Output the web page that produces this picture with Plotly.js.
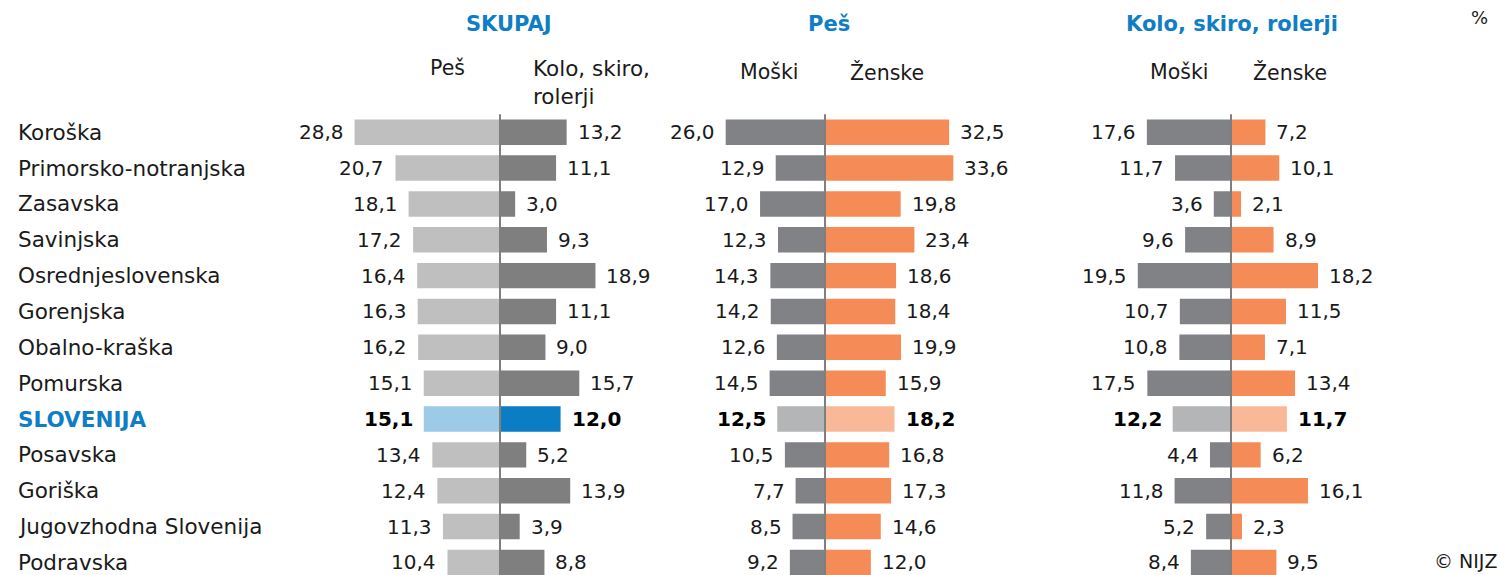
<!DOCTYPE html>
<html>
<head>
<meta charset="utf-8">
<script src="https://cdn.plot.ly/plotly-3.0.1.min.js"></script>
<style>html,body{margin:0;padding:0;background:#fff;}#chart{width:1501px;height:575px;}</style>
</head>
<body>
<div id="chart"></div>
<script>
// ---- DATA ----
const regions = ["Koroška","Primorsko-notranjska","Zasavska","Savinjska","Osrednjeslovenska","Gorenjska","Obalno-kraška","Pomurska","SLOVENIJA","Posavska","Goriška","Jugovzhodna Slovenija","Podravska"];
const skupajPes   = [28.8,20.7,18.1,17.2,16.4,16.3,16.2,15.1,15.1,13.4,12.4,11.3,10.4];
const skupajKolo  = [13.2,11.1,3.0,9.3,18.9,11.1,9.0,15.7,12.0,5.2,13.9,3.9,8.8];
const pesMoski    = [26.0,12.9,17.0,12.3,14.3,14.2,12.6,14.5,12.5,10.5,7.7,8.5,9.2];
const pesZenske   = [32.5,33.6,19.8,23.4,18.6,18.4,19.9,15.9,18.2,16.8,17.3,14.6,12.0];
const koloMoski   = [17.6,11.7,3.6,9.6,19.5,10.7,10.8,17.5,12.2,4.4,11.8,5.2,8.4];
const koloZenske  = [7.2,10.1,2.1,8.9,18.2,11.5,7.1,13.4,11.7,6.2,16.1,2.3,9.5];
const panelTitles = ["SKUPAJ","Peš","Kolo, skiro, rolerji"];
const subLeft  = ["Peš","Moški","Moški"];
const subRight = ["Kolo, skiro,<br>rolerji","Ženske","Ženske"];
const totalName = "SLOVENIJA";

// ---- LAYOUT HELPERS ----
const W = 1501, H = 575;
const FONT = "DejaVu Sans, Verdana, sans-serif";
const TXT = "#1a1a1a";
const BLUE = "#0f7ec5";
const px = v => v / W;
const py = v => 1 - v / H;

// panel geometry: center pixel, pixels per unit, half range, title centre
const panels = [
  {c: 500, s: 5.05, r: 32, t: 509, L: skupajPes, R: skupajKolo,
   colL: "#bfbfbf", colR: "#7f7f7f", totL: "#9dcae6", totR: "#0a7dc5"},
  {c: 825, s: 3.82, r: 36, t: 829, L: pesMoski, R: pesZenske,
   colL: "#818286", colR: "#f58b56", totL: "#b4b5b7", totR: "#f9b999"},
  {c: 1231, s: 4.78, r: 24, t: 1232, L: koloMoski, R: koloZenske,
   colL: "#818286", colR: "#f58b56", totL: "#b4b5b7", totR: "#f9b999"}
];

const topPx = 114.3, rowH = 35.85;
const yDomTop = py(topPx);
const yRange = [-0.5 + (H - topPx) / rowH, -0.5];

const traces = [], annotations = [], shapes = [];
const layout = {
  width: W, height: H,
  margin: {l: 0, r: 0, t: 0, b: 0},
  paper_bgcolor: "#fff", plot_bgcolor: "#fff",
  showlegend: false, barmode: "overlay",
  font: {family: FONT, size: 20, color: TXT},
  yaxis: {type: "category", range: yRange, domain: [0, yDomTop], visible: false,
          categoryorder: "array", categoryarray: regions, fixedrange: true}
};

panels.forEach((p, i) => {
  const xa = i === 0 ? "x" : "x" + (i + 1);
  const key = i === 0 ? "xaxis" : "xaxis" + (i + 1);
  const half = p.r * p.s;
  layout[key] = {range: [-p.r, p.r], domain: [px(p.c - half), px(p.c + half)],
                 visible: false, fixedrange: true, anchor: "y"};
  traces.push({
    type: "bar", orientation: "h", y: regions, x: p.L.map(v => -v),
    xaxis: xa, yaxis: "y", width: 0.71, hoverinfo: "skip",
    marker: {color: regions.map(r => r === totalName ? p.totL : p.colL)}
  });
  traces.push({
    type: "bar", orientation: "h", y: regions, x: p.R,
    xaxis: xa, yaxis: "y", width: 0.71, hoverinfo: "skip",
    marker: {color: regions.map(r => r === totalName ? p.totR : p.colR)}
  });
  const fmt = v => v.toFixed(1).replace(".", ",");
  regions.forEach((reg, k) => {
    const bold = reg === totalName;
    annotations.push({xref: xa, yref: "y", x: -p.L[k], y: reg, xanchor: "right", yanchor: "middle",
      xshift: -9, showarrow: false, text: bold ? "<b>" + fmt(p.L[k]) + "</b>" : fmt(p.L[k]),
      font: {family: FONT, size: 20, color: bold ? "#000" : TXT}});
    annotations.push({xref: xa, yref: "y", x: p.R[k], y: reg, xanchor: "left", yanchor: "middle",
      xshift: 9, showarrow: false, text: bold ? "<b>" + fmt(p.R[k]) + "</b>" : fmt(p.R[k]),
      font: {family: FONT, size: 20, color: bold ? "#000" : TXT}});
  });
  shapes.push({type: "line", xref: xa, yref: "paper", x0: 0, x1: 0, y0: 0, y1: yDomTop,
               line: {color: "#7f7f7f", width: 2}});
  // panel title
  annotations.push({xref: "paper", yref: "paper", x: px(p.t), y: py(24), xanchor: "center", yanchor: "middle",
    showarrow: false, text: "<b>" + panelTitles[i] + "</b>", font: {family: FONT, size: 21, color: BLUE}});
});

// sub headers
const SUB = 20.5;
annotations.push({xref: "paper", yref: "paper", x: px(447), y: py(68), xanchor: "center", yanchor: "middle",
  showarrow: false, text: subLeft[0], font: {family: FONT, size: SUB, color: TXT}});
annotations.push({xref: "paper", yref: "paper", x: px(531), y: py(82), xanchor: "left", yanchor: "middle", align: "left",
  showarrow: false, text: subRight[0], font: {family: FONT, size: 21.5, color: TXT}});
annotations.push({xref: "paper", yref: "paper", x: px(769), y: py(72), xanchor: "center", yanchor: "middle",
  showarrow: false, text: subLeft[1], font: {family: FONT, size: SUB, color: TXT}});
annotations.push({xref: "paper", yref: "paper", x: px(887), y: py(72), xanchor: "center", yanchor: "middle",
  showarrow: false, text: subRight[1], font: {family: FONT, size: SUB, color: TXT}});
annotations.push({xref: "paper", yref: "paper", x: px(1179), y: py(72), xanchor: "center", yanchor: "middle",
  showarrow: false, text: subLeft[2], font: {family: FONT, size: SUB, color: TXT}});
annotations.push({xref: "paper", yref: "paper", x: px(1290), y: py(72), xanchor: "center", yanchor: "middle",
  showarrow: false, text: subRight[2], font: {family: FONT, size: SUB, color: TXT}});

// region labels
regions.forEach(reg => {
  const bold = reg === totalName;
  annotations.push({xref: "paper", yref: "y", x: px(16), y: reg, xanchor: "left", yanchor: "middle",
    showarrow: false, text: bold ? "<b>" + reg + "</b>" : reg,
    font: {family: FONT, size: 21.5, color: bold ? BLUE : TXT}});
});

// unit and credit
annotations.push({xref: "paper", yref: "paper", x: px(1479), y: py(18), xanchor: "center", yanchor: "middle",
  showarrow: false, text: "%", font: {family: FONT, size: 18, color: TXT}});
annotations.push({xref: "paper", yref: "paper", x: px(1499), y: py(561), xanchor: "right", yanchor: "middle",
  showarrow: false, text: "© NIJZ", font: {family: FONT, size: 19, color: TXT}});

layout.annotations = annotations;
layout.shapes = shapes;

Plotly.newPlot("chart", traces, layout, {displayModeBar: false, staticPlot: true});
</script>
</body>
</html>
